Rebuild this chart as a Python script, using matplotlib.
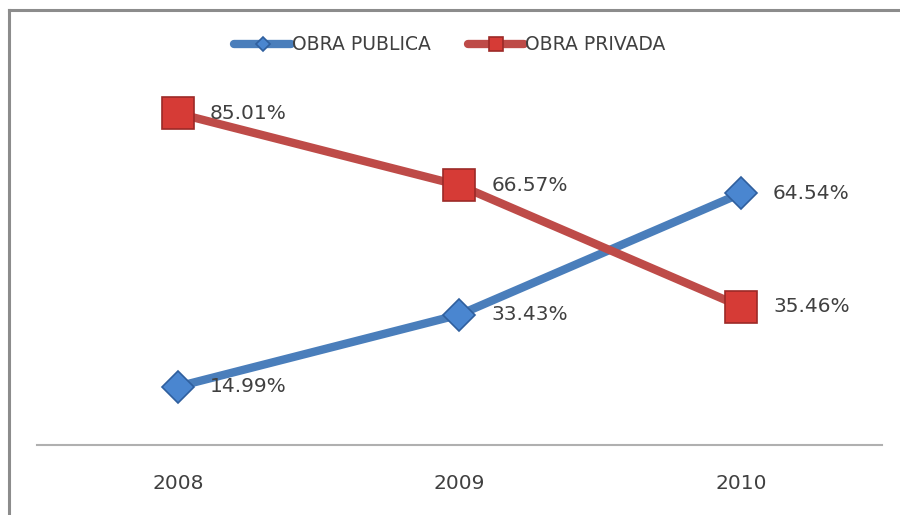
import numpy as np
from matplotlib import pyplot as plt
from matplotlib.lines import Line2D

years = ['2008', '2009', '2010']
obra_publica = [14.99, 33.43, 64.54]
obra_privada = [85.01, 66.57, 35.46]

blue_line = '#4a7ebb'
red_line = '#be4b48'
text_color = '#404040'

fig = plt.figure(figsize=(9, 5.15), dpi=100)
ax = fig.add_axes([37 / 900, 70 / 515, 845 / 900, 390 / 515])

x = np.arange(len(years))

ax.plot(x, obra_publica, color=blue_line, linewidth=6, solid_capstyle='round',
        marker='D', markersize=16.5, markerfacecolor='#4a86d0',
        markeredgecolor='#2f5f9e', markeredgewidth=1.2, label='OBRA PUBLICA', zorder=3)
ax.plot(x, obra_privada, color=red_line, linewidth=6, solid_capstyle='round',
        marker='s', markersize=23, markerfacecolor='#d63b36',
        markeredgecolor='#9c2a27', markeredgewidth=1.2, label='OBRA PRIVADA', zorder=3)

# value labels to the right of each marker
for xi, v in zip(x, obra_publica):
    ax.annotate('{:.2f}%'.format(v), (xi, v), xytext=(23, 0), textcoords='offset points',
                ha='left', va='center', fontsize=14.5, color=text_color, zorder=4)
for xi, v in zip(x, obra_privada):
    ax.annotate('{:.2f}%'.format(v), (xi, v), xytext=(23, 0), textcoords='offset points',
                ha='left', va='center', fontsize=14.5, color=text_color, zorder=4)

ax.set_xlim(-0.5, 2.5)
ax.set_ylim(0, 100)
ax.set_xticks(x)
ax.set_xticklabels(years, fontsize=14.5, color=text_color)
ax.tick_params(axis='x', length=0, pad=21)
ax.set_yticks([])

for side in ['top', 'right', 'left']:
    ax.spines[side].set_visible(False)
ax.spines['bottom'].set_color('#b0b0b0')
ax.spines['bottom'].set_linewidth(1.5)

fig.legend(loc='center', bbox_to_anchor=(0.5, 1 - 45 / 515), ncol=2, frameon=False,
           fontsize=13.5, handlelength=3.0, handletextpad=0.05, columnspacing=2.0,
           labelcolor=text_color, markerscale=0.45)

# chart border (top and left edges)
fig.add_artist(Line2D([9 / 900, 9 / 900], [0, 1 - 10 / 515], color='#8c8c8c', linewidth=2.2))
fig.add_artist(Line2D([9 / 900, 1], [1 - 10 / 515, 1 - 10 / 515], color='#8c8c8c', linewidth=2.2))

fig.savefig('out.png', dpi=100)
